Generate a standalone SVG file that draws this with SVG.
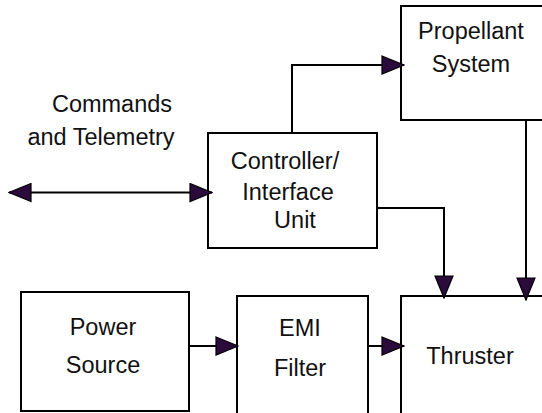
<svg xmlns="http://www.w3.org/2000/svg" width="542" height="413" viewBox="0 0 542 413">
  <style>
    .box { fill: #ffffff; stroke: #000000; stroke-width: 2; }
    .lbl { font-family: "Liberation Sans", Arial, sans-serif; font-size: 23.5px; fill: #111111; text-anchor: middle; }
    .lbl-l { font-family: "Liberation Sans", Arial, sans-serif; font-size: 23.5px; fill: #111111; text-anchor: middle; }
    .wire { fill: none; stroke: #000000; stroke-width: 2; }
  </style>
  <defs>
    <marker id="ah" viewBox="0 0 24 20" refX="23" refY="10" markerWidth="24" markerHeight="20" markerUnits="userSpaceOnUse" orient="auto-start-reverse">
      <path d="M1,1 L23,10 L1,19 Z" fill="#2b0b3b" stroke="#000000" stroke-width="1.2"/>
    </marker>
  </defs>
  <rect width="542" height="413" fill="#ffffff"/>

  <g id="propellant">
    <rect class="box" x="401" y="6" width="150" height="114"/>
    <text class="lbl" x="471" y="39">Propellant</text>
    <text class="lbl" x="471" y="72">System</text>
  </g>

  <g id="commands-label">
    <text class="lbl-l" x="112" y="112">Commands</text>
    <text class="lbl-l" x="101" y="145">and Telemetry</text>
  </g>

  <g id="controller">
    <rect class="box" x="208" y="133" width="169" height="115"/>
    <text class="lbl" x="285" y="169">Controller/</text>
    <text class="lbl" x="288" y="200">Interface</text>
    <text class="lbl" x="295" y="228">Unit</text>
  </g>

  <g id="power">
    <rect class="box" x="21" y="292" width="168" height="119"/>
    <text class="lbl" x="103" y="335">Power</text>
    <text class="lbl" x="103" y="373">Source</text>
  </g>

  <g id="emi">
    <rect class="box" x="237" y="296" width="131" height="140"/>
    <text class="lbl" x="300" y="336">EMI</text>
    <text class="lbl" x="300" y="376">Filter</text>
  </g>

  <g id="thruster">
    <rect class="box" x="401" y="296" width="150" height="140"/>
    <text class="lbl" x="470" y="364">Thruster</text>
  </g>

  <g id="connectors">
    <path class="wire" d="M9,192.5 L212,192.5" marker-start="url(#ah)" marker-end="url(#ah)"/>
    <path class="wire" d="M292,133 L292,65 L404,65" marker-end="url(#ah)"/>
    <path class="wire" d="M377,208 L444,208 L444,298" marker-end="url(#ah)"/>
    <path class="wire" d="M526,120 L526,300" marker-end="url(#ah)"/>
    <path class="wire" d="M189,346 L238,346" marker-end="url(#ah)"/>
    <path class="wire" d="M368,346 L404,346" marker-end="url(#ah)"/>
  </g>
</svg>
